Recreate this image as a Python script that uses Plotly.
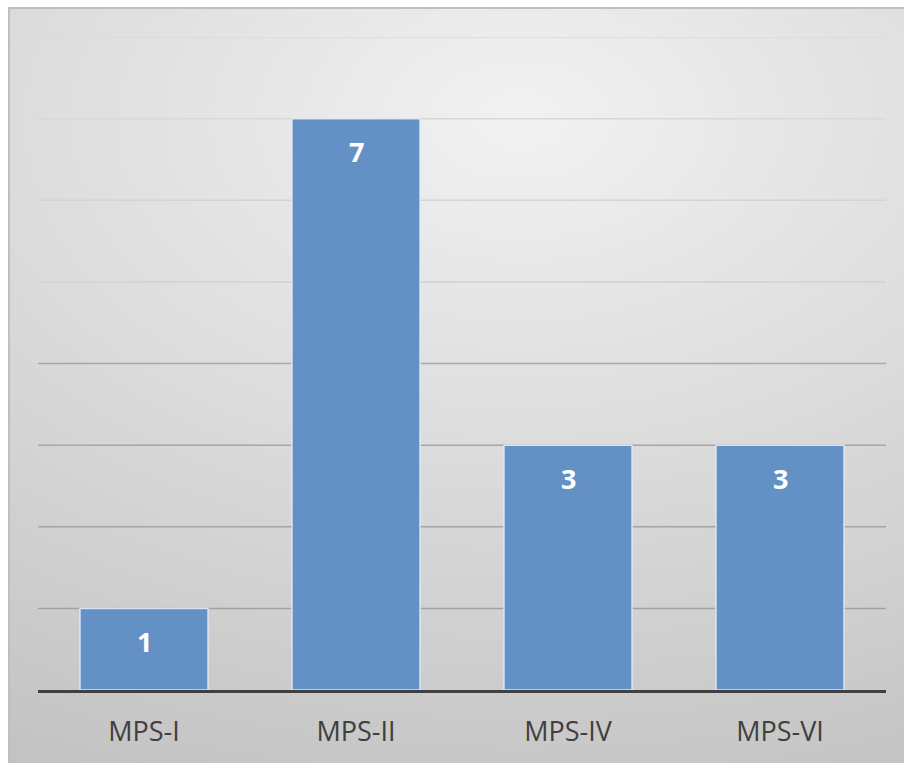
import base64, struct, zlib
import numpy as np
import plotly.graph_objects as go

categories = ["MPS-I", "MPS-II", "MPS-IV", "MPS-VI"]
values = [1, 7, 3, 3]
grid_values = [1, 2, 3, 4, 5, 6, 7, 8]
grid_colors = ["#a2a2a2", "#a4a4a4", "#a6a6a6", "#a8a8a8",
               "#d2d2d2", "#d4d4d4", "#d8d8d8", "#dadada"]

W, H = 904, 763
ML, MR, MT, MB = 38, 18, 37, 73
PW, PH = W - ML - MR, H - MT - MB


def make_bg():
    yy, xx = np.mgrid[0:H, 0:W].astype(float)
    cx, cy, rx, ry = 520.0, 120.0, 948.0, 610.0
    r = np.sqrt(((xx - cx) / rx) ** 2 + ((yy - cy) / ry) ** 2)
    g = 242 - 40 * r
    g = np.clip(g, 190, 245)
    img = np.stack([g, g, g], axis=-1)
    img[(xx < 8) | (yy < 7)] = 255
    border = ((xx >= 8) & (xx < 10) & (yy >= 7)) | ((yy >= 7) & (yy < 9) & (xx >= 8))
    img[border] = 191
    img = img.astype(np.uint8)
    raw = np.concatenate([np.zeros((H, 1), np.uint8), img.reshape(H, W * 3)], axis=1).tobytes()

    def chunk(t, d):
        c = struct.pack(">I", len(d)) + t + d
        return c + struct.pack(">I", zlib.crc32(t + d) & 0xffffffff)

    png = b"\x89PNG\r\n\x1a\n" + chunk(b"IHDR", struct.pack(">IIBBBBB", W, H, 8, 2, 0, 0, 0)) \
        + chunk(b"IDAT", zlib.compress(raw, 9)) + chunk(b"IEND", b"")
    return "data:image/png;base64," + base64.b64encode(png).decode()


fig = go.Figure()
fig.add_trace(go.Bar(
    x=categories, y=values,
    marker=dict(color="#6391c6", line=dict(color="rgba(225,235,248,0.9)", width=1.5)),
    hoverinfo="skip",
))

for c, v in zip(categories, values):
    fig.add_annotation(x=c, y=v, xref="x", yref="y", text=f"<b>{v}</b>", showarrow=False,
                       yanchor="middle", yshift=-33,
                       font=dict(family="Open Sans", size=27, color="white"))

for gv, gc in zip(grid_values, grid_colors):
    fig.add_shape(type="line", xref="paper", yref="y", x0=0, x1=1, y0=gv, y1=gv,
                  line=dict(color=gc, width=1.5), layer="below")

fig.add_layout_image(dict(
    source=make_bg(), xref="paper", yref="paper",
    x=-ML / PW, y=1 + MT / PH, sizex=W / PW, sizey=H / PH,
    xanchor="left", yanchor="top", sizing="stretch", layer="below",
))

fig.update_layout(
    width=W, height=H,
    margin=dict(l=ML, r=MR, t=MT, b=MB),
    paper_bgcolor="white", plot_bgcolor="rgba(0,0,0,0)",
    bargap=0.396, showlegend=False,
    xaxis=dict(showline=True, linecolor="#404040", linewidth=3, showgrid=False,
               ticks="outside", ticklen=16, tickcolor="rgba(0,0,0,0)",
               tickfont=dict(family="Open Sans", size=27, color="#404040")),
    yaxis=dict(range=[0, 8], showgrid=False, zeroline=False, showticklabels=False,
               fixedrange=True),
)

fig.write_html("out.html", config={"displayModeBar": False})
